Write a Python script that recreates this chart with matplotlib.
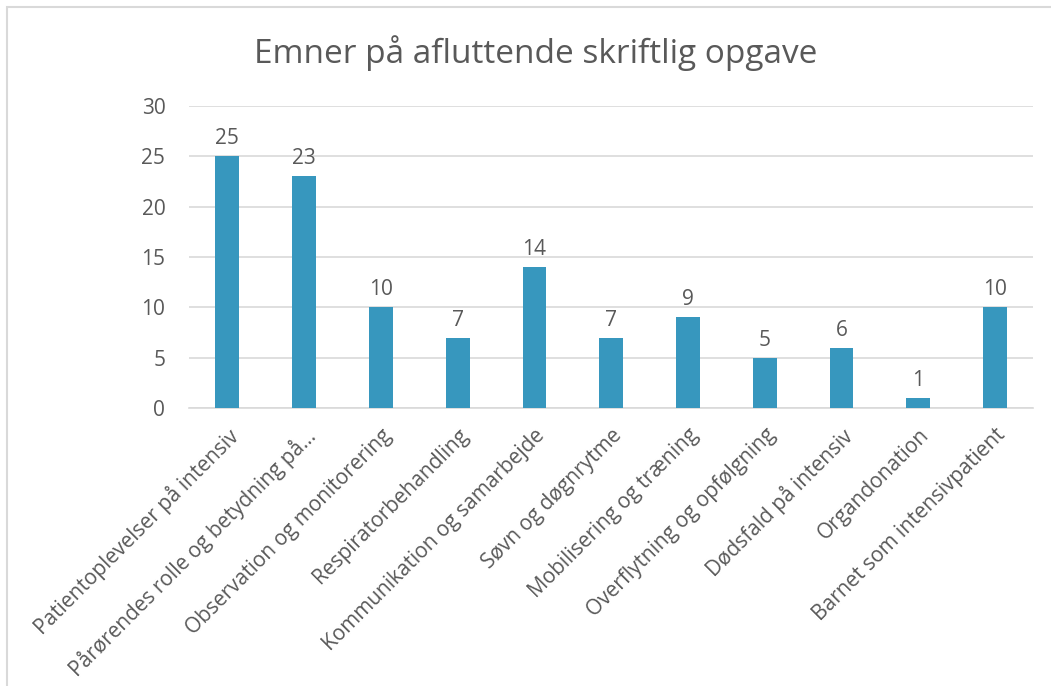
import matplotlib.pyplot as plt
from matplotlib.patches import Rectangle

# ------------------------------------------------------------------------------
# Data
# ------------------------------------------------------------------------------
categories = [
    "Patientoplevelser på intensiv",
    "Pårørendes rolle og betydning på…",
    "Observation og monitorering",
    "Respiratorbehandling",
    "Kommunikation og samarbejde",
    "Søvn og døgnrytme",
    "Mobilisering og træning",
    "Overflytning og opfølgning",
    "Dødsfald på intensiv",
    "Organdonation",
    "Barnet som intensivpatient",
]
counts = [25, 23, 10, 7, 14, 7, 9, 5, 6, 1, 10]
y_ticks = [0, 5, 10, 15, 20, 25, 30]

bar_color = "#3797BE"
text_color = "#595959"
grid_color = "#D9D9D9"

plt.rcParams['font.family'] = ['Open Sans', 'DejaVu Sans']

fig = plt.figure(figsize=(10.51, 6.86), dpi=100)
ax = fig.add_axes([0.1798, 0.4052, 0.8035, 0.4403])

# chart border (light gray frame)
fig.patches.append(Rectangle((7 / 1051, -0.1), 1.2, 1 - 7 / 686 + 0.1,
                             transform=fig.transFigure, fill=False,
                             edgecolor=grid_color, linewidth=1.5))

x = range(len(categories))
bars = ax.bar(x, counts, width=0.31, color=bar_color, zorder=3)

for xi, v in zip(x, counts):
    ax.text(xi, v + 0.7, str(v), ha='center', va='bottom',
            fontsize=15, color=text_color)

ax.set_ylim(0, 30)
ax.set_xlim(-0.5, len(categories) - 0.5)
ax.set_yticks(y_ticks)
ax.yaxis.grid(True, color=grid_color, linewidth=1.2, zorder=0)
ax.tick_params(axis='y', length=0, labelsize=15, labelcolor=text_color, pad=17)
ax.tick_params(axis='x', length=0, pad=12)
ax.set_xticks(list(x))
ax.set_xticklabels(categories, rotation=45, ha='right', rotation_mode='anchor',
                   fontsize=15, color=text_color)

for side in ['top', 'right', 'left']:
    ax.spines[side].set_visible(False)
ax.spines['bottom'].set_color(grid_color)
ax.spines['bottom'].set_linewidth(1.2)

fig.text(0.510, 0.922, "Emner på afluttende skriftlig opgave", ha='center',
         va='center', fontsize=24, color=text_color)

fig.savefig("out.png", dpi=100)
